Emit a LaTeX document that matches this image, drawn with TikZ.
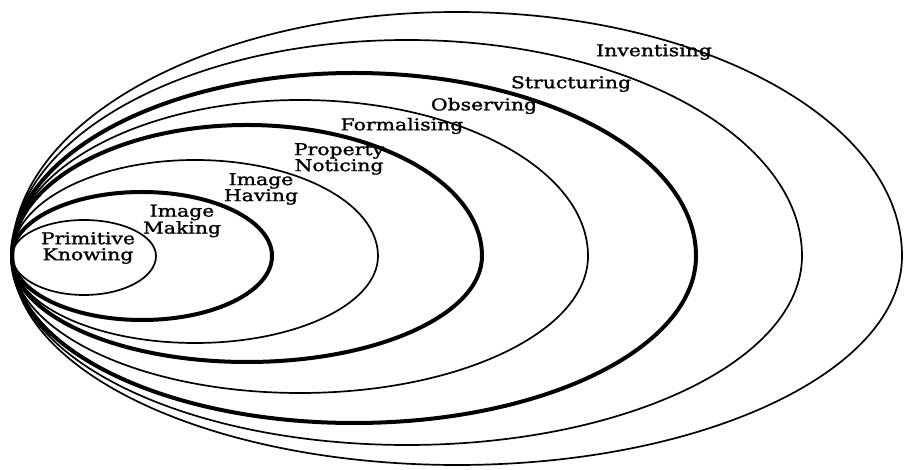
\documentclass[tikz,border=0pt]{standalone}
\usepackage{fontspec}
\setmainfont[FakeStretch=1.25,FakeBold=1.5]{DejaVu Serif}
\begin{document}
\begin{tikzpicture}[x=1pt,y=1pt,
  thinring/.style={line width=1.7pt},
  thickring/.style={line width=4pt},
  lbl/.style={font=\fontsize{16.3}{16}\selectfont, align=center, inner sep=0pt}]
\useasboundingbox (0,0) rectangle (904,470);
\coordinate (L) at (12,214);
% rings: rx, top radius, bottom radius
\draw[thinring]  (L) arc[start angle=180,end angle=0,x radius=445,y radius=244] arc[start angle=0,end angle=-180,x radius=445,y radius=209];
\draw[thinring]  (L) arc[start angle=180,end angle=0,x radius=395,y radius=216] arc[start angle=0,end angle=-180,x radius=395,y radius=189];
\draw[thickring] (L) arc[start angle=180,end angle=0,x radius=342,y radius=183] arc[start angle=0,end angle=-180,x radius=342,y radius=167];
\draw[thinring]  (L) arc[start angle=180,end angle=0,x radius=288,y radius=156] arc[start angle=0,end angle=-180,x radius=288,y radius=137];
\draw[thickring] (L) arc[start angle=180,end angle=0,x radius=235,y radius=131] arc[start angle=0,end angle=-180,x radius=235,y radius=106];
\draw[thinring]  (L) arc[start angle=180,end angle=0,x radius=183,y radius=96] arc[start angle=0,end angle=-180,x radius=183,y radius=87];
\draw[thickring] (L) arc[start angle=180,end angle=0,x radius=130,y radius=64] arc[start angle=0,end angle=-180,x radius=130,y radius=64];
\draw[thinring]  (L) arc[start angle=180,end angle=0,x radius=72,y radius=36] arc[start angle=0,end angle=-180,x radius=72,y radius=39];
% labels
\node[lbl] (pk) at (88,222) {Primitive\\Knowing};
\node[lbl] (im) at (182,249) {Image\\Making};
\node[lbl] (ih) at (261,281) {Image\\Having};
\node[lbl] (pn) at (339,311) {Property\\Noticing};
\node[lbl] (fo) at (402,344) {Formalising};
\node[lbl] (ob) at (484,364) {Observing};
\node[lbl] (st) at (571,386) {Structuring};
\node[lbl] (in) at (654,418) {Inventising};
\end{tikzpicture}
\end{document}
